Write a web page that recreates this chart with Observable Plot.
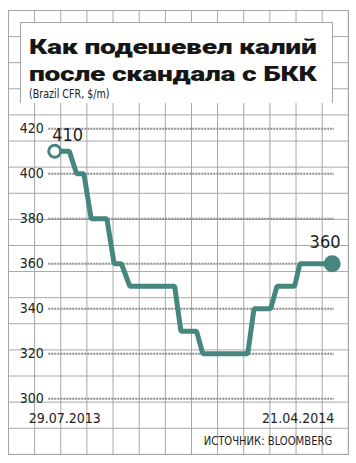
<!DOCTYPE html>
<html><head><meta charset="utf-8">
<script src="https://cdn.jsdelivr.net/npm/d3@7"></script>
<script src="https://cdn.jsdelivr.net/npm/@observablehq/plot@0.6"></script>
<style>
body{margin:0;background:#fff;}
#wrap{position:relative;width:356px;height:463px;overflow:hidden;background:#fff;}
#grid{position:absolute;left:8px;top:10px;width:341px;height:445px;box-sizing:border-box;
 background-image:linear-gradient(to right,#a4a4a4 1px,transparent 1px),linear-gradient(to bottom,#a4a4a4 1px,transparent 1px);
 background-size:26.154px 26.118px;border-right:1px solid #a4a4a4;border-bottom:1px solid #a4a4a4;}
#tbox{position:absolute;left:20px;top:22px;width:313px;height:81px;background:#fff;border:1px solid #a4a4a4;border-bottom:none;box-sizing:border-box;}
.tl{position:absolute;left:29px;font-family:"Roboto","DejaVu Sans";font-weight:900;font-size:21px;line-height:21px;color:#161616;white-space:nowrap;transform-origin:0 0;letter-spacing:-0.2px;}
#sub{position:absolute;left:29px;top:86.5px;font-family:"DejaVu Sans Condensed","DejaVu Sans";font-size:13px;line-height:13px;color:#222;white-space:nowrap;transform-origin:0 0;}
#src{position:absolute;right:24px;top:434.5px;font-family:"DejaVu Sans Condensed","DejaVu Sans";font-size:12.5px;line-height:12.5px;color:#222;white-space:nowrap;transform-origin:100% 0;}
#chart{position:absolute;left:0;top:103px;}
</style></head>
<body>
<div id="wrap">
 <div id="grid"></div>
 <div id="tbox"></div>
 <div class="tl" id="t1" style="top:36.5px">Как подешевел калий</div>
 <div class="tl" id="t2" style="top:63.9px">после скандала с БКК</div>
 <div id="sub">(Brazil CFR, $/m)</div>
 <div id="chart"></div>
 <div id="src">ИСТОЧНИК: BLOOMBERG</div>
</div>
<script>
// Vertices of the price series (date, $/t)
const dates = ["2013-07-29","2013-08-12","2013-08-19","2013-08-26","2013-09-02","2013-09-17","2013-09-24","2013-10-01","2013-10-09","2013-11-21","2013-11-27","2013-12-12","2013-12-18","2014-01-30","2014-02-05","2014-02-21","2014-02-27","2014-03-16","2014-03-21","2014-04-21"];
const prices = [410,410,400,400,380,380,360,360,350,350,330,330,320,320,340,340,350,350,360,360];
const yTicks = [300,320,340,360,380,400,420];
const xTickLabels = ["29.07.2013","21.04.2014"];

const data = dates.map((d,i)=>({date:new Date(d), price:prices[i]}));
const first = data[0], last = data[data.length-1];
const teal = "#45877f";

const chart = Plot.plot({
  width:356, height:360,
  marginLeft:54.2, marginRight:24.3, marginTop:25.3, marginBottom:64.7,
  x:{type:"utc", domain:[first.date,last.date]},
  y:{domain:[300,420]},
  style:{background:"transparent", fontFamily:"'DejaVu Sans Condensed','DejaVu Sans'", overflow:"visible"},
  marks:[
    Plot.ruleY(yTicks,{stroke:"#8d8d8d", strokeWidth:2, strokeDasharray:"2,1", insetLeft:-5.9, insetRight:-2.3}),
    Plot.axisY({ticks:yTicks, tickSize:0, tickPadding:11, fontSize:14, fill:"#222", label:null}),
    Plot.axisX([first.date],{tickSize:0, tickPadding:14.5, tickFormat:()=>xTickLabels[0], textAnchor:"start", dx:-26, fontSize:14, fill:"#222", label:null}),
    Plot.axisX([last.date],{tickSize:0, tickPadding:14.5, tickFormat:()=>xTickLabels[1], textAnchor:"end", dx:2, fontSize:14, fill:"#222", label:null}),
    Plot.line(data,{x:"date", y:"price", stroke:teal, strokeWidth:5, strokeLinejoin:"miter"}),
    Plot.dot([first],{x:"date", y:"price", r:6, stroke:teal, strokeWidth:3, fill:"white"}),
    Plot.dot([last],{x:"date", y:"price", r:8.5, fill:teal}),
    Plot.text([first],{x:"date", y:"price", text:d=>String(d.price), textAnchor:"start", lineAnchor:"bottom", dx:-2.5, dy:-10.8, fontSize:18, fill:"#1e1e1e"}),
    Plot.text([last],{x:"date", y:"price", text:d=>String(d.price), textAnchor:"end", lineAnchor:"bottom", dx:8.3, dy:-15.4, fontSize:18, fill:"#1e1e1e"})
  ]
});
document.getElementById("chart").appendChild(chart);

function fit(id, target) {
  const el = document.getElementById(id);
  const w = el.getBoundingClientRect().width;
  el.style.transform = `scaleX(${target/w})`;
}
fit("t1", 287.5);
fit("t2", 287.5);
fit("sub", 80.5);
fit("src", 128.5);
</script>
</body></html>
